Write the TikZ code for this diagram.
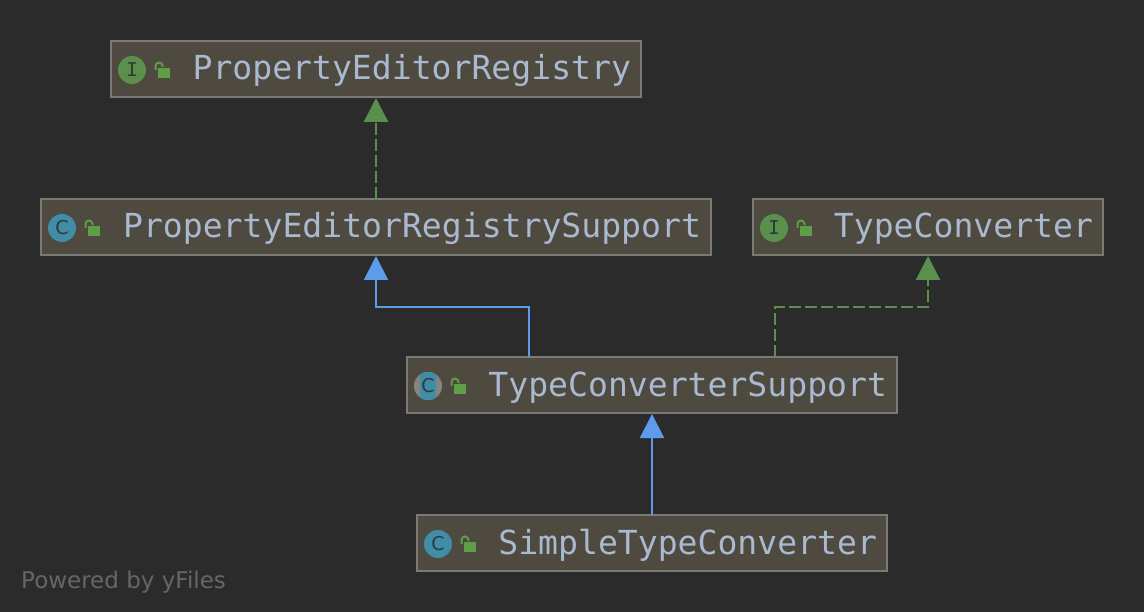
\documentclass[tikz,border=0pt]{standalone}
\usepackage{fontspec}
\setmainfont{DejaVu Sans}
\newfontfamily\classfont{DejaVu Sans Mono}
\usetikzlibrary{arrows.meta}
\definecolor{canvasbg}{HTML}{2B2B2B}
\definecolor{boxfill}{HTML}{4F4A40}
\definecolor{boxline}{HTML}{7B7B76}
\definecolor{nametext}{HTML}{A9B9D0}
\definecolor{implgreen}{HTML}{5B8F4C}
\definecolor{extblue}{HTML}{5C9CEB}
\definecolor{lockgreen}{HTML}{5E9E47}
\definecolor{classteal}{HTML}{418CA6}
\definecolor{markdark}{HTML}{2C3A3A}
\definecolor{abstractgrey}{HTML}{85857F}
\definecolor{footgrey}{HTML}{666666}
\tikzset{
  classbox/.style={draw=boxline, fill=boxfill, line width=2pt, outer sep=0pt,
    inner xsep=10pt, inner ysep=0pt, minimum height=56pt, text width=#1, align=right,
    text height=22pt, text depth=0pt, text=nametext,
    font=\classfont\fontsize{33.1}{33.1}\selectfont},
  kindmark/.style={circle, inner sep=0pt, minimum size=28pt, text=markdark,
    font=\fontsize{19}{19}\selectfont},
  implements/.style={draw=implgreen, line width=2.2pt, dash pattern=on 12pt off 4pt,
    -{Triangle[width=24pt,length=24pt,fill=implgreen]}, shorten >=1pt},
  extends/.style={draw=extblue, line width=2pt,
    -{Triangle[width=24pt,length=24pt,fill=extblue]}, shorten >=1pt},
}
\begin{document}
\begin{tikzpicture}[x=1pt, y=-1pt]
  \fill[canvasbg] (0,0) rectangle (1144,612);
  \useasboundingbox (0,0) rectangle (1144,612);

  % Class boxes
  \node[classbox=510pt] (registry) at (376,69) {PropertyEditorRegistry};
  \node[classbox=650pt] (support) at (376,227) {PropertyEditorRegistrySupport};
  \node[classbox=330pt] (converter) at (928,227) {TypeConverter};
  \node[classbox=470pt] (convsupport) at (652,385) {TypeConverterSupport};
  \node[classbox=450pt] (simple) at (652,543) {SimpleTypeConverter};

  % Kind marks and open locks
  \foreach \name/\letter/\col in {registry/{\classfont I}/implgreen, support/C/classteal, converter/{\classfont I}/implgreen, convsupport/C/classteal, simple/C/classteal} {
      \begin{scope}[shift={(\name.west)}]
        \node[kindmark, fill=\col] (\name mark) at (21,1) {\letter};
        \fill[lockgreen] (47,-1) rectangle (59,9);
        \draw[lockgreen, line width=2pt] (44.5,1) -- (44.5,-3) arc (180:360:3.5) -- (51.5,-2);
      \end{scope}
  }

  % Abstract class mark gets grey sides
  \begin{scope}
    \clip (convsupportmark.center) circle (14pt);
    \fill[abstractgrey] (414,371) rectangle (442,400);
    \fill[classteal, rounded corners=2pt] (420,371) rectangle (436,400);
  \end{scope}
  \node[text=markdark, font=\fontsize{19}{19}\selectfont] (convsupportletter) at (convsupportmark) {C};

  % Inheritance edges
  \draw[implements] (support.north) -- (registry.south);
  \draw[extends] (simple.north) -- (convsupport.south);
  \draw[extends] ([xshift=-123pt]convsupport.north) -- ++(0,-50) -| (support.south);
  \draw[implements] ([xshift=123pt]convsupport.north) -- ++(0,-50) -| (converter.south);

  \node[anchor=base west, inner sep=0pt, text=footgrey, font=\fontsize{23}{23}\selectfont] (powered) at (21,588) {Powered by yFiles};
\end{tikzpicture}
\end{document}
